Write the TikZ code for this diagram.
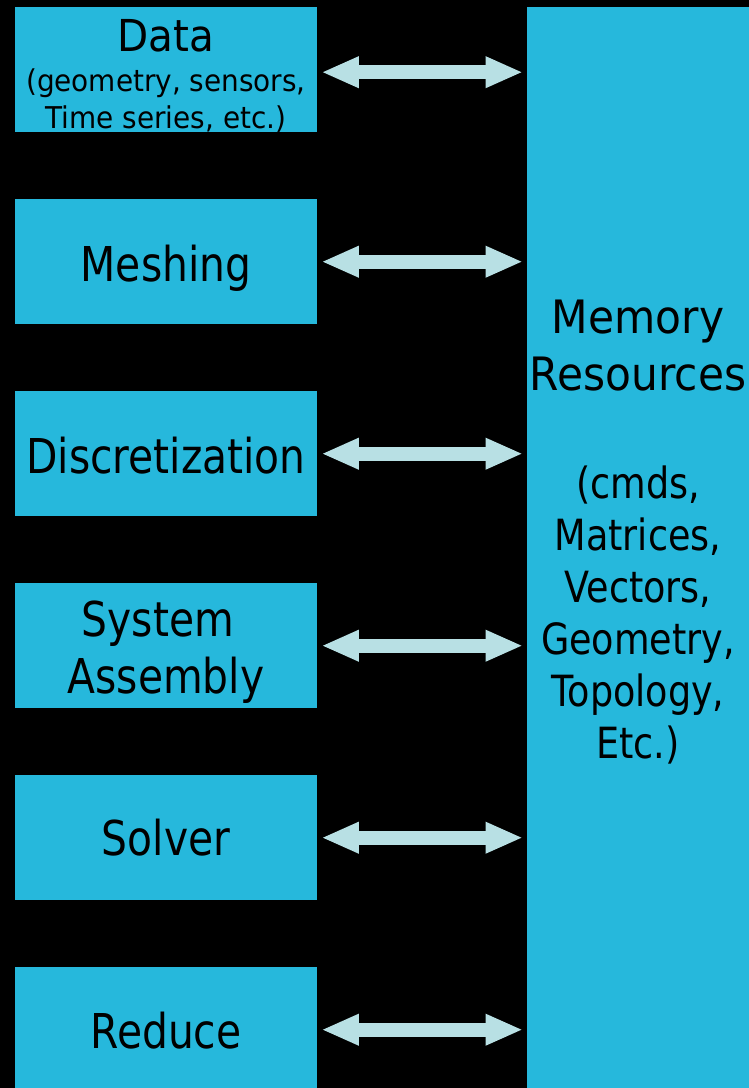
\documentclass[tikz,border=0pt]{standalone}
\usepackage{fontspec}
\setmainfont{DejaVu Sans}
\newfontfamily\lfont{DejaVu Sans}[FakeStretch=0.85]
\newfontfamily\rfont{DejaVu Sans}[FakeStretch=0.92]
\newfontfamily\subfont{DejaVu Sans}[FakeStretch=0.93]
\usetikzlibrary{arrows.meta}
\definecolor{boxcyan}{HTML}{26B8DC}
\definecolor{arrowfill}{HTML}{B8E0E4}
\begin{document}
\begin{tikzpicture}[x=1pt,y=-1pt,
  stage/.style={fill=boxcyan, draw=none, minimum width=302pt, minimum height=125pt, inner sep=0pt, anchor=north west},
  membox/.style={fill=boxcyan, draw=none, minimum width=240pt, minimum height=1090pt, inner sep=0pt, anchor=north west},
  ltext/.style={anchor=base, inner sep=0pt, font=\lfont\fontsize{48}{57}\selectfont},
  dtext/.style={anchor=base, inner sep=0pt, font=\rfont\fontsize{44}{50}\selectfont},
  stext/.style={anchor=base, inner sep=0pt, font=\subfont\fontsize{30}{32}\selectfont},
  rtext/.style={anchor=base, inner sep=0pt, font=\rfont\fontsize{46}{52}\selectfont},
  rsmall/.style={anchor=base, inner sep=0pt, font=\lfont\fontsize{43}{52}\selectfont},
  biarrow/.style={draw=arrowfill, line width=14pt, shorten <=4pt, shorten >=4pt,
    {Triangle[length=37.5pt, width=29pt]}-{Triangle[length=37.5pt, width=29pt]}}
]
\fill[black] (0,0) rectangle (749,1088);
\useasboundingbox (0,0) rectangle (749,1088);

% left stages
\node[stage] (data) at (15,7) {};
\node[stage] (mesh) at (15,199) {};
\node[stage] (disc) at (15,391) {};
\node[stage] (asm) at (15,583) {};
\node[stage] (solv) at (15,775) {};
\node[stage] (red) at (15,967) {};

% memory box
\node[membox] (mem) at (527,7) {};

% left labels
\node[dtext] (tdata) at (166,51) {Data};
\node[stext] (tdata2) at (166,91) {(geometry, sensors,};
\node[stext] (tdata3) at (166,128) {Time series, etc.)};
\node[ltext] (tmesh) at (166,281) {Meshing};
\node[ltext] (tdisc) at (166,473) {Discretization};
\node[ltext] (tsys) at (158,636) {System};
\node[ltext] (tasm) at (166,693) {Assembly};
\node[ltext] (tsolv) at (166,855) {Solver};
\node[ltext] (tred) at (166,1048) {Reduce};

% right labels
\node[rtext] (m1) at (638,333) {Memory};
\node[rtext] (m2) at (638,390) {Resources};
\node[rsmall] (m3) at (638,498) {(cmds,};
\node[rsmall] (m4) at (638,550) {Matrices,};
\node[rsmall] (m5) at (638,602) {Vectors,};
\node[rsmall] (m6) at (638,654) {Geometry,};
\node[rsmall] (m7) at (638,706) {Topology,};
\node[rsmall] (m8) at (638,758) {Etc.)};

% arrows
\coordinate (a1) at ([yshift=-2.5pt]data.east);
\draw[biarrow] (a1) -- (a1 -| mem.west);
\draw[biarrow] (mesh.east) -- (mesh.east -| mem.west);
\draw[biarrow] (disc.east) -- (disc.east -| mem.west);
\draw[biarrow] (asm.east) -- (asm.east -| mem.west);
\draw[biarrow] (solv.east) -- (solv.east -| mem.west);
\draw[biarrow] (red.east) -- (red.east -| mem.west);
\end{tikzpicture}
\end{document}
